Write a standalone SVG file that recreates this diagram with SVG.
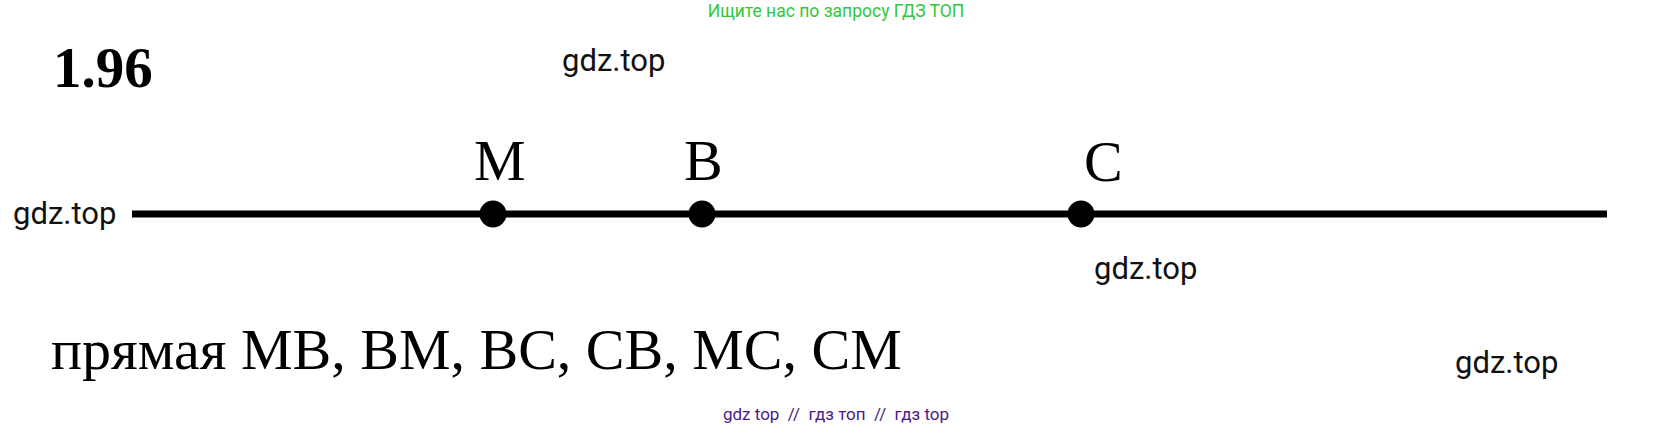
<svg xmlns="http://www.w3.org/2000/svg" width="1672" height="427" viewBox="0 0 1672 427">
<style>
.wm{font-family:Roboto,"Liberation Sans",sans-serif;font-size:31px;fill:#111}
.lbl{font-family:"Liberation Serif","Times New Roman",serif;font-size:58px;fill:#000}
.dot{fill:#000}
</style>
<rect width="1672" height="427" fill="#fff"/>
<text x="836" y="17" text-anchor="middle" font-family="Roboto,'Liberation Sans',sans-serif" font-size="17.5" fill="#2fc83a">Ищите нас по запросу ГДЗ ТОП</text>
<text x="53" y="87" font-family="'Liberation Serif','Times New Roman',serif" font-weight="bold" font-size="57" fill="#000">1.96</text>
<text class="wm" x="562" y="71">gdz.top</text>
<text class="wm" x="13" y="224">gdz.top</text>
<text class="wm" x="1094" y="279">gdz.top</text>
<text class="wm" x="1455" y="373">gdz.top</text>
<g id="connectors">
<line x1="132" y1="214" x2="1607" y2="214" stroke="#000" stroke-width="7"/>
</g>
<g id="M"><circle class="dot" cx="493" cy="214" r="13.5"/><text class="lbl" x="474" y="180">M</text></g>
<g id="B"><circle class="dot" cx="702" cy="214" r="13.5"/><text class="lbl" x="684" y="180">B</text></g>
<g id="C"><circle class="dot" cx="1081" cy="214" r="13.5"/><text class="lbl" x="1084" y="181">C</text></g>
<text class="lbl" x="51" y="369" font-size="58.5">прямая MB, BM, BC, CB, MC, CM</text>
<text x="836" y="420" text-anchor="middle" font-family="Roboto,'Liberation Sans',sans-serif" font-size="17" fill="#4b1a86" xml:space="preserve">gdz top  //  гдз топ  //  гдз top</text>
</svg>
